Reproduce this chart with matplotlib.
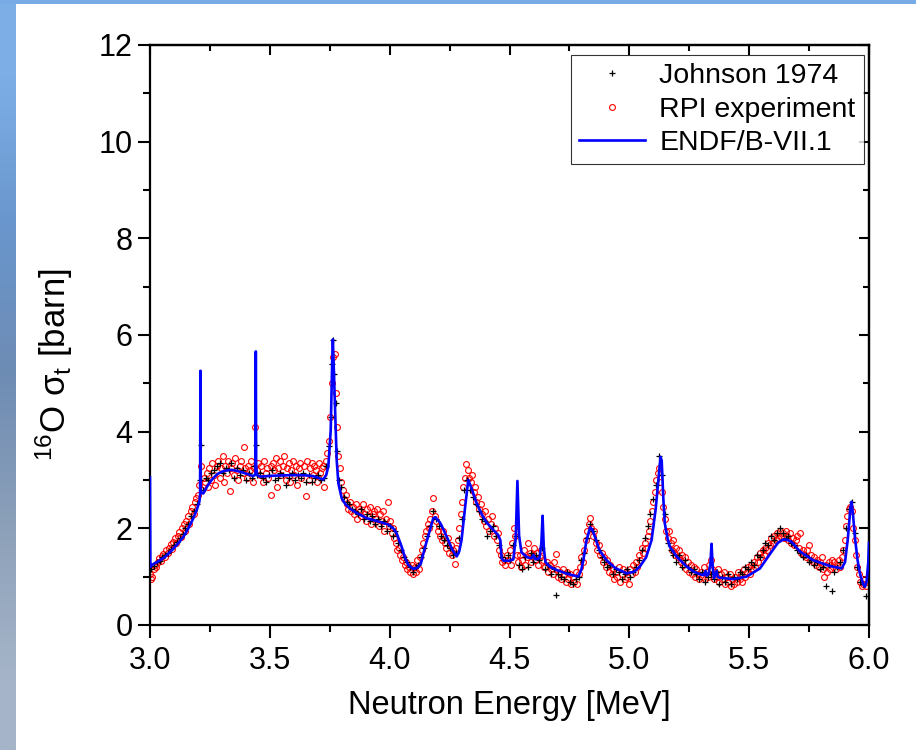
import numpy as np
import matplotlib
matplotlib.use("Agg")
import matplotlib.pyplot as plt
from matplotlib.ticker import MultipleLocator

plt.rcParams['font.family'] = ['Liberation Sans', 'DejaVu Sans']
plt.rcParams['mathtext.fontset'] = 'custom'
plt.rcParams['mathtext.rm'] = 'Liberation Sans'
plt.rcParams['mathtext.it'] = 'Liberation Sans:italic'

# ---------------- data ----------------
endf = [
    (3.000, 3.05), (3.0015, 1.20), (3.007, 1.24), (3.035, 1.32), (3.063, 1.41), (3.09, 1.54),
    (3.118, 1.69), (3.14, 1.83), (3.16, 2.00), (3.18, 2.20), (3.195, 2.38), (3.206, 2.55),
    (3.209, 2.70), (3.2105, 5.26), (3.212, 2.75), (3.222, 2.72), (3.24, 2.88), (3.257, 3.00),
    (3.28, 3.12), (3.299, 3.17), (3.32, 3.20), (3.341, 3.21), (3.37, 3.18), (3.396, 3.14),
    (3.431, 3.08), (3.440, 3.12), (3.4415, 5.66), (3.443, 3.30), (3.447, 3.10), (3.459, 3.07),
    (3.52, 3.09), (3.584, 3.10), (3.64, 3.10), (3.681, 3.08), (3.723, 3.01), (3.735, 3.10),
    (3.744, 3.28), (3.754, 4.03), (3.760, 5.40), (3.763, 5.91), (3.767, 5.30), (3.772, 4.60),
    (3.779, 3.41), (3.786, 2.93), (3.80, 2.62), (3.815, 2.50), (3.834, 2.41), (3.862, 2.32),
    (3.904, 2.21), (3.94, 2.16), (3.973, 2.11), (3.994, 2.08), (4.015, 2.00), (4.029, 1.90),
    (4.05, 1.62), (4.065, 1.38), (4.078, 1.24), (4.098, 1.16), (4.115, 1.18), (4.13, 1.27),
    (4.147, 1.60), (4.168, 1.97), (4.182, 2.21), (4.19, 2.23), (4.21, 2.12), (4.224, 1.98),
    (4.245, 1.75), (4.262, 1.55), (4.28, 1.42), (4.29, 1.52), (4.30, 1.76), (4.315, 2.45),
    (4.328, 3.00), (4.34, 2.85), (4.363, 2.52), (4.385, 2.28), (4.405, 2.12), (4.43, 1.98),
    (4.453, 1.86), (4.462, 1.75), (4.467, 1.38), (4.475, 1.33), (4.50, 1.33), (4.516, 1.36),
    (4.526, 1.80), (4.533, 2.98), (4.540, 1.85), (4.55, 1.50), (4.575, 1.40), (4.592, 1.38),
    (4.60, 1.45), (4.608, 1.36), (4.625, 1.38), (4.633, 1.70), (4.638, 2.26), (4.643, 1.60),
    (4.65, 1.30), (4.67, 1.20), (4.696, 1.14), (4.74, 1.06), (4.787, 1.00), (4.80, 1.15),
    (4.808, 1.34), (4.82, 1.72), (4.836, 2.02), (4.845, 1.98), (4.856, 1.83), (4.875, 1.55),
    (4.905, 1.34), (4.94, 1.18), (4.988, 1.07), (5.02, 1.10), (5.044, 1.21), (5.07, 1.40),
    (5.093, 1.76), (5.11, 2.40), (5.121, 3.00), (5.13, 3.48), (5.135, 3.40), (5.142, 2.60),
    (5.148, 2.10), (5.16, 1.78), (5.169, 1.62), (5.20, 1.40), (5.239, 1.21), (5.27, 1.10),
    (5.295, 1.05), (5.31, 1.03), (5.318, 1.12), (5.322, 1.02), (5.33, 1.05), (5.338, 1.25),
    (5.343, 1.68), (5.348, 1.20), (5.353, 0.97), (5.36, 1.05), (5.364, 1.12), (5.369, 1.00),
    (5.375, 0.98), (5.433, 0.95), (5.489, 1.00), (5.545, 1.17), (5.594, 1.52), (5.62, 1.70),
    (5.642, 1.77), (5.66, 1.76), (5.677, 1.72), (5.712, 1.52), (5.767, 1.34), (5.837, 1.22),
    (5.886, 1.17), (5.90, 1.30), (5.912, 1.80), (5.922, 2.40), (5.927, 2.55), (5.933, 2.30),
    (5.941, 1.83), (5.952, 1.35), (5.962, 1.07), (5.975, 0.85), (5.983, 0.79), (5.99, 0.90),
    (5.997, 1.30), (6.000, 1.70),
]

rpi = [
    (3.002, 1.05), (3.006, 0.95), (3.010, 1.00), (3.015, 1.15), (3.020, 1.25), (3.026, 1.20),
    (3.032, 1.30), (3.038, 1.38), (3.044, 1.33), (3.050, 1.42), (3.056, 1.47), (3.062, 1.40),
    (3.068, 1.55), (3.074, 1.50), (3.080, 1.60), (3.086, 1.68), (3.092, 1.58), (3.098, 1.72),
    (3.104, 1.80), (3.110, 1.70), (3.116, 1.85), (3.122, 1.92), (3.128, 1.82), (3.134, 2.00),
    (3.140, 2.08), (3.146, 1.95), (3.152, 2.15), (3.158, 2.25), (3.164, 2.10), (3.170, 2.35),
    (3.176, 2.45), (3.182, 2.30), (3.188, 2.55), (3.194, 2.62), (3.200, 2.70), (3.206, 2.90),
    (3.212, 3.30), (3.218, 2.80), (3.224, 3.05), (3.230, 2.95), (3.236, 3.15), (3.242, 2.85),
    (3.248, 3.25), (3.254, 3.00), (3.260, 3.35), (3.266, 3.10), (3.272, 2.90), (3.278, 3.30),
    (3.284, 3.40), (3.290, 3.05), (3.296, 3.25), (3.303, 3.50), (3.308, 2.95), (3.314, 3.30),
    (3.320, 3.15), (3.326, 3.40), (3.332, 2.78), (3.338, 3.25), (3.344, 3.35), (3.350, 3.10),
    (3.356, 3.45), (3.362, 3.20), (3.368, 3.00), (3.374, 3.30), (3.380, 3.40), (3.386, 3.15),
    (3.394, 3.69), (3.398, 3.25), (3.404, 3.05), (3.410, 3.30), (3.416, 3.20), (3.422, 3.40),
    (3.428, 2.95), (3.434, 3.25), (3.440, 4.10), (3.446, 3.20), (3.452, 3.35), (3.458, 3.10),
    (3.464, 3.30), (3.470, 2.95), (3.476, 3.40), (3.482, 3.15), (3.488, 3.25), (3.494, 3.05),
    (3.503, 2.69), (3.506, 3.30), (3.512, 3.35), (3.518, 3.20), (3.524, 3.45), (3.530, 2.85),
    (3.536, 3.25), (3.542, 3.40), (3.548, 3.10), (3.554, 3.30), (3.560, 3.50), (3.566, 3.00),
    (3.572, 3.25), (3.578, 3.35), (3.584, 2.95), (3.590, 3.20), (3.596, 3.40), (3.602, 3.10),
    (3.608, 3.30), (3.614, 2.90), (3.620, 3.25), (3.626, 3.35), (3.632, 3.05), (3.650, 2.66),
    (3.644, 3.30), (3.656, 3.40), (3.662, 3.00), (3.668, 3.25), (3.674, 3.35), (3.680, 3.10),
    (3.686, 3.30), (3.692, 3.20), (3.698, 2.95), (3.704, 3.35), (3.710, 3.15), (3.716, 3.25),
    (3.722, 3.30), (3.728, 2.85), (3.734, 3.40), (3.740, 3.55), (3.746, 3.80), (3.752, 4.30),
    (3.758, 5.00), (3.764, 5.55), (3.770, 5.60), (3.776, 4.80), (3.780, 4.10), (3.786, 3.50),
    (3.792, 3.25), (3.798, 2.95), (3.804, 2.80), (3.810, 2.60), (3.816, 2.70), (3.822, 2.50),
    (3.828, 2.40), (3.834, 2.55), (3.840, 2.35), (3.846, 2.45), (3.852, 2.30), (3.858, 2.50),
    (3.864, 2.20), (3.870, 2.40), (3.876, 2.35), (3.882, 2.25), (3.888, 2.50), (3.894, 2.30),
    (3.900, 2.15), (3.906, 2.40), (3.912, 2.25), (3.918, 2.45), (3.924, 2.10), (3.930, 2.30),
    (3.936, 2.35), (3.942, 2.20), (3.948, 2.40), (3.954, 2.05), (3.960, 2.30), (3.966, 2.15),
    (3.972, 2.35), (3.978, 1.95), (3.984, 2.20), (3.994, 2.55), (3.996, 2.05), (4.002, 2.15),
    (4.008, 1.90), (4.014, 2.00), (4.020, 1.80), (4.026, 1.70), (4.032, 1.55), (4.038, 1.60),
    (4.044, 1.45), (4.050, 1.35), (4.056, 1.40), (4.062, 1.25), (4.068, 1.30), (4.074, 1.15),
    (4.080, 1.20), (4.086, 1.10), (4.092, 1.25), (4.098, 1.05), (4.104, 1.20), (4.110, 1.10),
    (4.116, 1.35), (4.122, 1.15), (4.128, 1.40), (4.134, 1.55), (4.140, 1.70), (4.146, 1.85),
    (4.152, 1.95), (4.158, 2.10), (4.164, 2.00), (4.170, 2.20), (4.176, 2.35), (4.182, 2.62),
    (4.188, 2.25), (4.194, 2.15), (4.200, 1.95), (4.206, 2.05), (4.212, 1.85), (4.218, 1.75),
    (4.224, 1.95), (4.230, 1.70), (4.236, 1.60), (4.242, 1.80), (4.248, 1.50), (4.254, 1.65),
    (4.260, 1.45), (4.266, 1.55), (4.272, 1.26), (4.278, 1.60), (4.284, 1.75), (4.290, 2.00),
    (4.296, 2.30), (4.302, 2.55), (4.308, 2.85), (4.314, 3.05), (4.320, 3.33), (4.326, 3.20),
    (4.332, 3.05), (4.338, 2.95), (4.344, 3.10), (4.350, 2.75), (4.356, 2.85), (4.362, 2.55),
    (4.368, 2.65), (4.374, 2.40), (4.380, 2.50), (4.386, 2.30), (4.392, 2.15), (4.398, 2.35),
    (4.404, 2.05), (4.410, 2.20), (4.416, 1.95), (4.422, 2.10), (4.428, 2.25), (4.434, 1.85),
    (4.440, 2.00), (4.446, 1.75), (4.452, 1.90), (4.458, 1.55), (4.464, 1.45), (4.470, 1.30),
    (4.476, 1.35), (4.482, 1.25), (4.488, 1.45), (4.494, 1.35), (4.500, 1.55), (4.506, 1.25),
    (4.512, 1.70), (4.518, 2.00), (4.524, 1.85), (4.530, 1.45), (4.536, 1.30), (4.542, 1.45),
    (4.548, 1.20), (4.554, 1.35), (4.560, 1.55), (4.566, 1.25), (4.572, 1.40), (4.578, 1.70),
    (4.584, 1.50), (4.590, 1.30), (4.596, 1.45), (4.602, 1.60), (4.608, 1.35), (4.614, 1.50),
    (4.620, 1.25), (4.626, 1.40), (4.632, 1.55), (4.638, 1.35), (4.644, 1.20), (4.650, 1.20),
    (4.656, 1.30), (4.662, 1.10), (4.668, 1.25), (4.674, 1.15), (4.680, 1.05), (4.686, 1.30),
    (4.692, 1.46), (4.698, 1.15), (4.704, 1.00), (4.710, 1.10), (4.716, 0.95), (4.722, 1.15),
    (4.728, 1.05), (4.734, 0.90), (4.740, 1.10), (4.746, 0.95), (4.752, 1.05), (4.758, 0.85),
    (4.764, 1.00), (4.770, 0.90), (4.776, 1.10), (4.782, 0.85), (4.788, 1.05), (4.794, 1.20),
    (4.800, 1.40), (4.806, 1.30), (4.812, 1.55), (4.818, 1.75), (4.824, 1.95), (4.830, 2.10),
    (4.836, 2.21), (4.842, 2.00), (4.848, 1.85), (4.854, 1.95), (4.860, 1.70), (4.866, 1.55),
    (4.872, 1.65), (4.878, 1.45), (4.884, 1.50), (4.890, 1.30), (4.896, 1.40), (4.902, 1.20),
    (4.908, 1.35), (4.914, 1.10), (4.920, 1.25), (4.926, 1.05), (4.932, 1.15), (4.938, 0.95),
    (4.944, 1.10), (4.950, 1.00), (4.956, 1.20), (4.962, 0.90), (4.968, 1.05), (4.974, 1.15),
    (4.980, 0.95), (4.986, 1.10), (4.992, 1.00), (4.998, 0.85), (5.004, 1.15), (5.010, 1.05),
    (5.016, 1.25), (5.022, 1.10), (5.028, 1.30), (5.034, 1.20), (5.040, 1.45), (5.046, 1.35),
    (5.052, 1.60), (5.058, 1.50), (5.064, 1.70), (5.070, 1.60), (5.076, 1.85), (5.082, 1.95),
    (5.088, 2.15), (5.094, 2.35), (5.100, 2.55), (5.106, 2.75), (5.112, 3.00), (5.118, 3.15),
    (5.124, 3.25), (5.130, 2.95), (5.136, 2.75), (5.142, 2.45), (5.148, 2.20), (5.154, 1.95),
    (5.160, 1.80), (5.166, 1.95), (5.172, 1.70), (5.178, 1.55), (5.184, 1.75), (5.190, 1.45),
    (5.196, 1.60), (5.202, 1.40), (5.208, 1.55), (5.214, 1.30), (5.220, 1.45), (5.226, 1.25),
    (5.232, 1.40), (5.238, 1.15), (5.244, 1.30), (5.250, 1.10), (5.256, 1.25), (5.262, 1.05),
    (5.268, 1.20), (5.274, 1.00), (5.280, 1.15), (5.286, 1.05), (5.292, 0.95), (5.298, 1.10),
    (5.304, 1.00), (5.310, 1.20), (5.316, 0.95), (5.322, 1.10), (5.328, 1.00), (5.334, 1.25),
    (5.340, 1.35), (5.346, 1.15), (5.352, 0.95), (5.358, 1.10), (5.364, 1.00), (5.370, 1.15),
    (5.376, 0.90), (5.382, 1.05), (5.388, 0.95), (5.394, 1.10), (5.400, 0.85), (5.406, 1.00),
    (5.412, 0.90), (5.418, 1.05), (5.424, 0.80), (5.430, 0.95), (5.436, 0.85), (5.442, 1.00),
    (5.448, 0.90), (5.454, 1.10), (5.460, 0.95), (5.466, 1.05), (5.472, 0.90), (5.478, 1.15),
    (5.484, 1.00), (5.490, 1.10), (5.496, 1.20), (5.502, 1.05), (5.508, 1.25), (5.514, 1.15),
    (5.520, 1.30), (5.526, 1.20), (5.532, 1.40), (5.538, 1.30), (5.544, 1.50), (5.550, 1.40),
    (5.556, 1.55), (5.562, 1.45), (5.568, 1.60), (5.574, 1.55), (5.580, 1.70), (5.586, 1.65),
    (5.592, 1.80), (5.598, 1.70), (5.604, 1.85), (5.610, 1.75), (5.616, 1.90), (5.622, 1.80),
    (5.628, 1.95), (5.634, 1.85), (5.640, 1.90), (5.646, 1.80), (5.652, 1.95), (5.658, 1.85),
    (5.664, 1.75), (5.670, 1.90), (5.676, 1.70), (5.682, 1.80), (5.688, 1.65), (5.694, 1.75),
    (5.700, 1.85), (5.706, 1.60), (5.712, 1.91), (5.718, 1.50), (5.724, 1.55), (5.730, 1.45),
    (5.736, 1.40), (5.742, 1.55), (5.748, 1.65), (5.754, 1.35), (5.760, 1.45), (5.766, 1.30),
    (5.772, 1.40), (5.778, 1.25), (5.784, 1.35), (5.790, 1.20), (5.796, 1.30), (5.802, 1.40),
    (5.808, 1.15), (5.814, 1.00), (5.820, 1.25), (5.826, 1.10), (5.832, 1.30), (5.838, 1.15),
    (5.844, 1.35), (5.850, 1.20), (5.856, 1.30), (5.862, 1.15), (5.868, 1.25), (5.874, 1.35),
    (5.880, 1.20), (5.886, 1.40), (5.892, 1.55), (5.898, 1.75), (5.904, 2.05), (5.910, 2.25),
    (5.916, 2.40), (5.922, 2.45), (5.928, 2.35), (5.934, 2.00), (5.940, 1.75), (5.946, 1.45),
    (5.952, 1.20), (5.958, 1.05), (5.964, 0.90), (5.970, 0.80), (5.976, 0.85), (5.982, 0.95),
    (5.988, 0.80), (5.994, 0.90), (6.000, 1.00),
]

johnson = [
    (3.004, 1.15), (3.016, 1.22), (3.028, 1.30), (3.040, 1.32), (3.052, 1.40), (3.064, 1.45),
    (3.076, 1.48), (3.088, 1.58), (3.100, 1.65), (3.112, 1.72), (3.124, 1.80), (3.136, 1.88),
    (3.148, 2.00), (3.160, 2.10), (3.172, 2.25), (3.184, 2.35), (3.196, 2.50), (3.208, 3.00),
    (3.212, 3.72), (3.220, 2.80), (3.232, 3.05), (3.244, 3.00), (3.256, 3.15), (3.268, 3.20),
    (3.280, 3.30), (3.292, 3.35), (3.304, 3.15), (3.316, 3.25), (3.328, 3.20), (3.340, 3.35),
    (3.352, 3.05), (3.364, 3.25), (3.376, 3.10), (3.388, 3.20), (3.400, 3.00), (3.412, 3.15),
    (3.424, 3.05), (3.436, 3.30), (3.442, 3.72), (3.448, 3.10), (3.460, 3.15), (3.472, 3.05),
    (3.484, 2.95), (3.496, 3.10), (3.508, 3.20), (3.520, 3.00), (3.532, 3.05), (3.544, 3.15),
    (3.556, 3.10), (3.568, 2.90), (3.580, 3.05), (3.592, 3.15), (3.604, 3.00), (3.616, 3.10),
    (3.628, 3.05), (3.640, 3.15), (3.652, 2.95), (3.664, 3.10), (3.676, 2.95), (3.688, 3.05),
    (3.700, 3.10), (3.712, 3.00), (3.724, 3.05), (3.736, 3.30), (3.748, 3.70), (3.754, 4.30),
    (3.760, 5.40), (3.764, 5.90), (3.768, 5.20), (3.774, 4.60), (3.780, 3.60), (3.788, 3.00),
    (3.796, 2.85), (3.808, 2.65), (3.820, 2.55), (3.832, 2.50), (3.844, 2.40), (3.856, 2.35),
    (3.868, 2.30), (3.880, 2.40), (3.892, 2.20), (3.904, 2.30), (3.916, 2.15), (3.928, 2.25),
    (3.940, 2.10), (3.952, 2.20), (3.964, 2.05), (3.976, 2.15), (3.988, 1.95), (4.000, 2.05),
    (4.012, 1.85), (4.024, 1.95), (4.036, 1.70), (4.048, 1.55), (4.060, 1.40), (4.072, 1.30),
    (4.084, 1.20), (4.096, 1.10), (4.108, 1.20), (4.120, 1.25), (4.132, 1.40), (4.144, 1.60),
    (4.156, 1.85), (4.168, 2.05), (4.180, 2.35), (4.192, 2.20), (4.204, 2.05), (4.216, 1.85),
    (4.228, 1.75), (4.240, 1.65), (4.252, 1.60), (4.264, 1.45), (4.276, 1.50), (4.288, 1.80),
    (4.300, 2.20), (4.312, 2.80), (4.324, 3.00), (4.336, 2.80), (4.348, 2.65), (4.360, 2.50),
    (4.372, 2.35), (4.384, 2.20), (4.396, 2.15), (4.408, 1.85), (4.420, 1.95), (4.432, 2.05),
    (4.444, 1.85), (4.456, 1.65), (4.468, 1.40), (4.480, 1.35), (4.492, 1.45), (4.504, 1.35),
    (4.516, 1.65), (4.528, 1.85), (4.540, 1.25), (4.552, 1.15), (4.564, 1.40), (4.576, 1.20),
    (4.588, 1.50), (4.600, 1.30), (4.612, 1.45), (4.624, 1.35), (4.636, 1.60), (4.648, 1.15),
    (4.660, 1.25), (4.672, 1.05), (4.684, 1.15), (4.692, 0.62), (4.704, 1.05), (4.716, 1.00),
    (4.728, 0.95), (4.740, 1.10), (4.752, 0.90), (4.764, 0.85), (4.776, 0.95), (4.788, 1.00),
    (4.800, 1.35), (4.812, 1.50), (4.824, 1.80), (4.836, 2.10), (4.848, 1.95), (4.860, 1.75),
    (4.872, 1.55), (4.884, 1.40), (4.896, 1.30), (4.908, 1.20), (4.920, 1.25), (4.932, 1.05),
    (4.944, 1.15), (4.956, 1.10), (4.968, 0.95), (4.980, 1.05), (4.992, 1.15), (5.004, 1.00),
    (5.016, 1.10), (5.028, 1.20), (5.040, 1.35), (5.052, 1.55), (5.064, 1.80), (5.076, 2.05),
    (5.088, 2.30), (5.100, 2.60), (5.112, 2.90), (5.124, 3.50), (5.136, 3.10), (5.148, 2.30),
    (5.160, 1.70), (5.172, 1.55), (5.184, 1.45), (5.196, 1.30), (5.208, 1.45), (5.220, 1.20),
    (5.232, 1.35), (5.244, 1.20), (5.256, 1.10), (5.268, 1.15), (5.280, 1.05), (5.292, 0.95),
    (5.304, 1.10), (5.316, 0.90), (5.328, 1.00), (5.340, 1.05), (5.352, 0.95), (5.364, 1.10),
    (5.376, 0.85), (5.388, 1.00), (5.400, 0.90), (5.412, 1.05), (5.424, 0.85), (5.436, 1.00),
    (5.448, 0.95), (5.460, 1.10), (5.472, 1.05), (5.484, 1.20), (5.496, 1.15), (5.508, 1.30),
    (5.520, 1.25), (5.532, 1.45), (5.544, 1.40), (5.556, 1.55), (5.568, 1.70), (5.580, 1.65),
    (5.592, 1.85), (5.604, 1.75), (5.616, 1.90), (5.628, 2.00), (5.640, 1.90), (5.652, 1.80),
    (5.664, 1.85), (5.676, 1.70), (5.688, 1.65), (5.700, 1.55), (5.712, 1.50), (5.724, 1.40),
    (5.736, 1.45), (5.748, 1.30), (5.760, 1.35), (5.772, 1.25), (5.784, 1.30), (5.796, 1.15),
    (5.808, 1.20), (5.820, 0.80), (5.832, 1.25), (5.844, 0.70), (5.856, 1.10), (5.868, 1.20),
    (5.880, 1.30), (5.892, 1.55), (5.904, 2.00), (5.916, 2.40), (5.928, 2.55), (5.940, 1.90),
    (5.952, 1.20), (5.964, 0.90), (5.976, 0.85), (5.988, 0.60), (6.000, 0.95),
]

x_ticks = [3.0, 3.5, 4.0, 4.5, 5.0, 5.5, 6.0]
x_ticklabels = ["3.0", "3.5", "4.0", "4.5", "5.0", "5.5", "6.0"]
y_ticks = [0, 2, 4, 6, 8, 10, 12]

endf_E, endf_s = zip(*endf)
rpi_E, rpi_s = zip(*rpi)
joh_E, joh_s = zip(*johnson)

# ---------------- figure ----------------
fig = plt.figure(figsize=(9.16, 7.5), dpi=100)
fig.patch.set_facecolor('white')

# decorative background strips (left gradient, top bar)
bg = fig.add_axes([0, 0, 16 / 916, 1])
grad = np.array([[125, 175, 230], [105, 150, 205], [110, 140, 180], [140, 160, 185], [165, 180, 200]]) / 255.0
bg.imshow(grad[:, None, :], aspect='auto', interpolation='bilinear', extent=[0, 1, 0, 1])
bg.set_axis_off()
top = fig.add_axes([0, 1 - 4 / 750, 1, 4 / 750])
top.set_facecolor((0.47, 0.67, 0.9))
top.set_xticks([]); top.set_yticks([])
for s in top.spines.values():
    s.set_visible(False)

ax = fig.add_axes([150 / 916, 1 - 625 / 750, (869 - 150) / 916, (625 - 45) / 750])

ax.plot(joh_E, joh_s, linestyle='none', marker='+', color='black', markersize=4.6,
        markeredgewidth=0.9, label='Johnson 1974', zorder=3)
ax.plot(rpi_E, rpi_s, linestyle='none', marker='o', markerfacecolor='none',
        markeredgecolor='red', markersize=4.2, markeredgewidth=0.8,
        label='RPI experiment', zorder=2)
ax.plot(endf_E, endf_s, color='#0000ff', linewidth=1.9, label='ENDF/B-VII.1', zorder=4)

ax.set_xlim(3.0, 6.0)
ax.set_ylim(0, 12)
ax.set_xticks(x_ticks)
ax.set_xticklabels(x_ticklabels)
ax.set_yticks(y_ticks)
ax.xaxis.set_minor_locator(MultipleLocator(0.25))
ax.yaxis.set_minor_locator(MultipleLocator(1))

ax.tick_params(axis='both', which='major', direction='out', length=9, width=1.5,
               labelsize=22, top=False, right=False)
ax.tick_params(axis='both', which='minor', direction='out', length=5, width=1.5,
               top=False, right=False)
ax.tick_params(axis='x', pad=6)
for s in ax.spines.values():
    s.set_linewidth(1.6)

# inward ticks on top and right spines
sec_x = ax.secondary_xaxis('top')
sec_x.set_xticks(x_ticks)
sec_x.xaxis.set_minor_locator(MultipleLocator(0.25))
sec_x.tick_params(which='major', direction='in', length=7, width=1.5, labeltop=False)
sec_x.tick_params(which='minor', direction='in', length=4, width=1.5)
sec_x.spines['top'].set_linewidth(1.6)
sec_y = ax.secondary_yaxis('right')
sec_y.set_yticks(y_ticks)
sec_y.yaxis.set_minor_locator(MultipleLocator(1))
sec_y.tick_params(which='major', direction='in', length=7, width=1.5, labelright=False)
sec_y.tick_params(which='minor', direction='in', length=4, width=1.5)
sec_y.spines['right'].set_linewidth(1.6)

ax.set_xlabel('Neutron Energy [MeV]', fontsize=23.5, labelpad=10)
ax.set_ylabel(r'$^{16}$O $\mathrm{\sigma}_\mathrm{t}$ [barn]', fontsize=25)
ax.yaxis.set_label_coords(-0.104, 0.448)

leg = ax.legend(loc='upper right', bbox_to_anchor=(0.993, 0.983), fontsize=20.5,
                frameon=True, fancybox=False, edgecolor='black', handlelength=2.3,
                handletextpad=0.5, borderpad=0.3, labelspacing=0.25, markerscale=1.0,
                borderaxespad=0.0)
leg.get_frame().set_linewidth(0.8)

fig.savefig('out.png', dpi=100, facecolor='white')
